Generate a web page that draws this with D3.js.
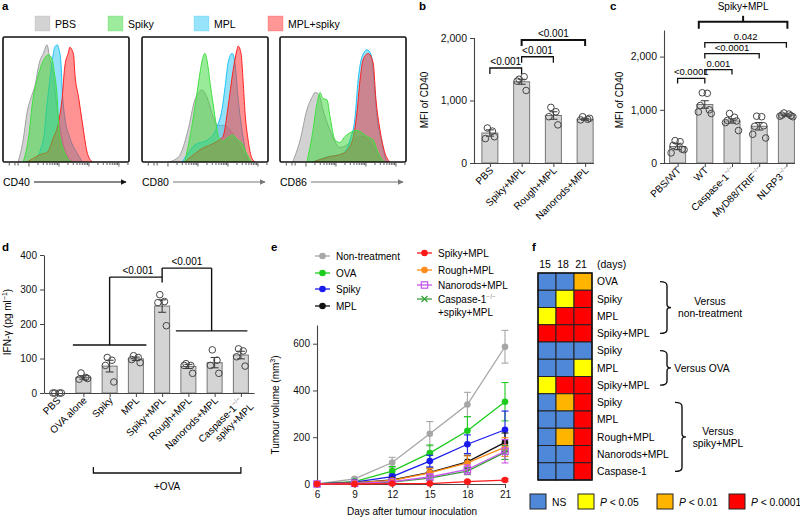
<!DOCTYPE html>
<html><head><meta charset="utf-8">
<script src="https://cdn.jsdelivr.net/npm/d3@7"></script>
<style>body{margin:0;background:#fff}</style>
</head><body>
<script>
// ================= DATA =================
// Panel a: flow cytometry histograms, [channel (0-100), % of max]
const histMarkers = ["CD40", "CD80", "CD86"];
const histGroups = ["PBS", "Spiky", "MPL", "MPL+spiky"];
const cd40PBS   = [[12,0],[16,18],[19,40],[23,55],[25,61],[29,82],[32,89],[35,96],[37,85],[40,71],[42,51],[45,30],[48,14],[53,2],[57,0]];
const cd40Spiky = [[16,0],[20,18],[24,53],[27,67],[31,81],[33,85],[36,88],[39,84],[40.5,75],[43,53],[44.5,26],[48,10],[52,2],[55,0]];
const cd40MPL   = [[24,0],[32,18],[35,48],[37,66],[40,89],[41,94],[43,96],[44.5,92],[46,81],[47,59],[49,37],[53,20],[59,7],[63,0]];
const cd40Both  = [[19,0],[24,3],[29,6],[35,8],[40,20],[44,32],[47,53],[49,78],[52,90],[53,94],[56,88],[57,73],[60,53],[63,32],[67,7],[71,0]];
const cd80PBS   = [[21,0],[29,4],[36.5,26],[42,51],[47.6,59],[51.6,53],[56.4,37],[60.3,30],[66,30],[70,26],[76,16],[82,4],[84,0]];
const cd80Spiky = [[34,0],[40,32],[44,59],[46,73],[48.4,86],[50,89],[52.4,78],[54,65],[56.4,48],[59,30],[61,20],[64,17],[68,20],[72,22],[76,18],[79,16],[83,7],[87,0]];
const cd80MPL   = [[32,0],[42,14],[52,18],[59.6,29],[63.5,43],[66,62],[68.3,81],[71.5,89],[73.8,81],[76.2,53],[79.4,26],[83.4,4],[86,0]];
const cd80Both  = [[34,0],[47.6,11],[58,16],[64.3,21],[68.3,45],[72.3,75],[75.4,92],[76.2,95],[78.6,89],[80.2,67],[81.8,40],[84.2,18],[87.3,3],[90,0]];
const cd86PBS   = [[10,0],[16,18],[21.4,43],[25.4,53],[27.8,57],[31,55],[34.1,43],[39.7,26],[47.6,12],[53.2,14],[58,18],[66,21],[71.5,16],[77,7],[81,0]];
const cd86Spiky = [[21.4,0],[25.4,21],[29.4,48],[31.8,57],[34.1,52],[37.3,51],[39.7,37],[43.7,18],[47.6,16],[51.6,21],[55.6,24],[61,26],[65,24],[69,21],[74,18],[77,10],[81,2],[83.4,0]];
const cd86MPL   = [[26,0],[37,4],[50,7],[55.6,18],[59.6,37],[62,67],[65,86],[69,92],[72.3,88],[74.6,67],[77,37],[81,16],[83.4,4],[86,0]];
const cd86Both  = [[26,0],[38,4],[50,7],[57,16],[61,40],[63.5,67],[66,84],[70,89],[74,81],[76,53],[79.4,26],[83.4,7],[87.3,0]];
const histData = [
  {PBS: cd40PBS, Spiky: cd40Spiky, MPL: cd40MPL, "MPL+spiky": cd40Both},
  {PBS: cd80PBS, Spiky: cd80Spiky, MPL: cd80MPL, "MPL+spiky": cd80Both},
  {PBS: cd86PBS, Spiky: cd86Spiky, MPL: cd86MPL, "MPL+spiky": cd86Both}
];
const histDecades = [20.6, 44.4, 68.2, 92];

// Panel b
const bCategories = ["PBS", "Spiky+MPL", "Rough+MPL", "Nanorods+MPL"];
const bMeans = [480, 1300, 760, 700];
const bSEM = [50, 40, 60, 15];
const bPoints = [[560, 510, 390, 420], [1340, 1380, 1310, 1160], [890, 820, 740, 610], [740, 700, 690, 715]];
const bTicks = [0, 1000, 2000];
const bComparisons = [[0, 1, "<0.001", 1520], [1, 2, "<0.001", 1700], [1, 3, "<0.001", 1970]];

// Panel c
const cCategories = ["PBS/WT", "WT", "Caspase-1", "MyD88/TRIF", "NLRP3"];
const cSuper = ["", "", "−/−", "−/−", "−/−"];
const cMeans = [310, 1100, 790, 690, 900];
const cSEM = [60, 70, 40, 70, 20];
const cPoints = [[420, 400, 330, 260, 190, 250], [1320, 1310, 1080, 1000, 960, 930], [930, 860, 800, 790, 760, 610], [880, 870, 690, 700, 540, 470], [940, 920, 900, 890, 880, 870]];
const cTicks = [0, 1000, 2000];
const cComparisons = [[0, 1, "<0.0001", 1590], [1, 2, "0.001", 1757], [1, 3, "<0.0001", 2056], [1, 4, "0.042", 2262]];
const cGroupLabel = "Spiky+MPL";
const cGroupLevel = 2654;

// Panel d
const dCategories = ["PBS", "OVA alone", "Spiky", "MPL", "Spiky+MPL", "Rough+MPL", "Nanorods+MPL", "Caspase-1"];
const dCategoryLine2 = ["", "", "", "", "", "", "", "spiky+MPL"];
const dMeans = [0, 45, 78, 99, 252, 77, 88, 110];
const dSEM = [0, 5, 17, 5, 18, 6, 15, 11];
const dPoints = [[0, 0, 0, 0], [58, 45, 40, 42], [103, 95, 80, 32], [108, 103, 97, 88], [285, 265, 262, 195], [85, 80, 80, 57], [125, 95, 80, 57], [128, 122, 105, 78]];
const dTicks = [0, 100, 200, 300, 400];
const dGroupLeft = [1, 3], dLevelLeft = 139;
const dGroupRight = [5, 7], dLevelRight = 180;
const dTopLevels = [336, 362];
const dTopLabels = ["<0.001", "<0.001"];

// Panel e
const eDays = [6, 9, 12, 15, 18, 21];
const eSeries = ["Non-treatment", "OVA", "Spiky", "MPL", "Spiky+MPL", "Rough+MPL", "Nanorods+MPL", "Caspase-1"];
const eNonTreatment = [0, 22, 92, 215, 340, 587];
const eOVA          = [0, 10, 55, 132, 228, 352];
const eSpiky        = [0, 8, 32, 98, 170, 232];
const eMPL          = [0, 5, 18, 50, 95, 178];
const eSpikyMPL     = [0, 0, 2, 2, 10, 17];
const eRoughMPL     = [0, 5, 15, 48, 90, 158];
const eNanorodsMPL  = [0, 3, 10, 30, 62, 140];
const eCaspase      = [0, 2, 8, 25, 55, 135];
const eErrNon   = [0, 5, 22, 52, 52, 70];
const eErrOVA   = [0, 3, 20, 35, 60, 82];
const eErrSpiky = [0, 3, 10, 25, 40, 80];
const eErrMPL   = [0, 2, 8, 18, 28, 40];
const eErrSM    = [0, 1, 2, 2, 4, 6];
const eErrRough = [0, 2, 8, 18, 30, 40];
const eErrNano  = [0, 2, 5, 10, 20, 50];
const eErrCasp  = [0, 2, 5, 10, 15, 30];
const eTicksX = [6, 9, 12, 15, 18, 21];
const eTicksY = [0, 200, 400, 600];

// Panel f
const fDays = [15, 18, 21];
const fRows = ["OVA", "Spiky", "MPL", "Spiky+MPL", "Spiky", "MPL", "Spiky+MPL", "Spiky", "MPL", "Rough+MPL", "Nanorods+MPL", "Caspase-1"];
// 0 = NS, 1 = P<0.05, 2 = P<0.01, 3 = P<0.0001
const fLevels = [[0,0,2],[0,1,3],[1,3,3],[3,3,3],[0,0,0],[0,0,1],[1,3,3],[0,2,3],[0,0,3],[0,2,3],[0,0,3],[0,0,3]];
const fLegend = ["NS", "P < 0.05", "P < 0.01", "P < 0.0001"];
const fGroups = [[0, 3, ["Versus", "non-treatment"]], [4, 6, ["Versus OVA"]], [7, 11, ["Versus", "spiky+MPL"]]];

// ================= DRAWING =================
const F = "'Liberation Sans', Arial, Helvetica, sans-serif";
const svg = d3.select("body").append("svg").attr("width", 800).attr("height", 520)
  .style("font-family", F).style("font-size", "10px");
const axisCol = "#444";

function label(x, y, s, bold) {
  svg.append("text").attr("x", x).attr("y", y).text(s)
    .style("font-weight", bold ? "bold" : "normal").style("font-size", "11.5px");
}
label(2, 10, "a", 1); label(419, 10, "b", 1); label(610, 10, "c", 1);
label(2, 251, "d", 1); label(271, 251, "e", 1); label(532, 251, "f", 1);

// ---------- Panel a ----------
const histFill = {PBS: "#a8a8a8", Spiky: "#3cd83c", MPL: "#30c8f5", "MPL+spiky": "#ff3030"};
const histStroke = {PBS: "#a0a0a0", Spiky: "#40e040", MPL: "#1ec2f5", "MPL+spiky": "#ff2020"};
const drawOrder = ["PBS", "MPL", "MPL+spiky", "Spiky"];
const legX = [35, 108, 194, 268];
histGroups.forEach((g, i) => {
  svg.append("rect").attr("x", legX[i]).attr("y", 16).attr("width", 15).attr("height", 15)
    .attr("fill", histFill[g]).attr("fill-opacity", 0.5).attr("stroke", histFill[g]).attr("stroke-opacity", 0.25);
  svg.append("text").attr("x", legX[i] + 20).attr("y", 27.5).text(g).style("font-size", "10.5px");
});
const boxL = [3, 142, 280], boxW = 126, boxT = 37, boxB = 162;
const hy = d3.scaleLinear().domain([0, 100]).range([boxB, 40]);
const defs = svg.append("defs");
defs.append("marker").attr("id", "arr").attr("viewBox", "0 0 10 10").attr("refX", 9).attr("refY", 5)
  .attr("markerWidth", 5).attr("markerHeight", 5).attr("orient", "auto")
  .append("path").attr("d", "M0,0 L10,5 L0,10 z").attr("fill", "context-stroke");
histMarkers.forEach((m, pi) => {
  const L = boxL[pi];
  const hx = d3.scaleLinear().domain([0, 100]).range([L, L + boxW]);
  defs.append("clipPath").attr("id", "clip" + pi).append("rect")
    .attr("x", L).attr("y", boxT).attr("width", boxW).attr("height", boxB - boxT);
  const g = svg.append("g").attr("clip-path", `url(#clip${pi})`);
  const area = d3.area().x(d => hx(d[0])).y0(boxB).y1(d => hy(d[1])).curve(d3.curveMonotoneX);
  const line = d3.line().x(d => hx(d[0])).y(d => hy(d[1])).curve(d3.curveMonotoneX);
  drawOrder.forEach(k => {
    g.append("path").attr("d", area(histData[pi][k])).attr("fill", histFill[k]).attr("fill-opacity", 0.52);
    g.append("path").attr("d", line(histData[pi][k])).attr("fill", "none").attr("stroke", histStroke[k]).attr("stroke-width", 1);
  });
  svg.append("rect").attr("x", L).attr("y", boxT).attr("width", boxW).attr("height", boxB - boxT)
    .attr("fill", "none").attr("stroke", "#111").attr("stroke-width", 1.6).attr("rx", 1.5);
  // log-like tick marks under the box
  const tks = [];
  [5, 9.5, 12].forEach(v => tks.push([v, 2.5]));
  histDecades.forEach(d0 => {
    tks.push([d0, 3.5]);
    for (let k = 2; k <= 9; k++) { const v = d0 + 23.8 * Math.log10(k); if (v < 100) tks.push([v, 2]); }
  });
  tks.forEach(t => svg.append("line").attr("x1", hx(t[0])).attr("x2", hx(t[0]))
    .attr("y1", boxB + 1).attr("y2", boxB + 1 + t[1]).attr("stroke", "#333").attr("stroke-width", 0.8));
  svg.append("text").attr("x", L).attr("y", 186).text(m).style("font-size", "10.5px");
  const ac = pi === 0 ? "#111" : "#777";
  svg.append("line").attr("x1", L + 31).attr("x2", L + 123).attr("y1", 182).attr("y2", 182)
    .attr("stroke", ac).attr("stroke-width", 1.2).attr("marker-end", "url(#arr)");
});

// ---------- generic bar panel ----------
function styleAxis(sel) {
  sel.selectAll("path.domain").attr("stroke", axisCol).attr("stroke-width", 1.1);
  sel.selectAll(".tick line").attr("stroke", axisCol);
  sel.selectAll(".tick text").attr("fill", "#111").style("font-family", F);
}
function drawBars(x, y, cats, means, sem, pts, bw) {
  const g = svg.append("g");
  cats.forEach((c, i) => {
    const cx = x(c);
    g.append("rect").attr("x", cx - bw / 2).attr("y", y(means[i])).attr("width", bw)
      .attr("height", Math.max(0, y(0) - y(means[i]))).attr("fill", "#d4d4d4").attr("stroke", "#777").attr("stroke-width", 1);
    if (sem[i] > 0) {
      g.append("line").attr("x1", cx).attr("x2", cx).attr("y1", y(means[i] - sem[i])).attr("y2", y(means[i] + sem[i])).attr("stroke", "#333");
      [means[i] - sem[i], means[i] + sem[i]].forEach(v => g.append("line").attr("x1", cx - 4).attr("x2", cx + 4)
        .attr("y1", y(v)).attr("y2", y(v)).attr("stroke", "#333"));
    }
    pts[i].forEach((v, j) => {
      const off = (j % 2 ? 1 : -1) * (2.5 + (j >> 1) * 2) * (bw / 16);
      g.append("circle").attr("cx", cx + off).attr("cy", y(v)).attr("r", 3.3)
        .attr("fill", "none").attr("stroke", "#444").attr("stroke-width", 1);
    });
  });
}
function bracket(x1, x2, yy, drop, txt, sw, fs) {
  svg.append("path").attr("d", `M${x1},${yy + drop}V${yy}H${x2}V${yy + drop}`)
    .attr("fill", "none").attr("stroke", "#111").attr("stroke-width", sw || 1.3);
  if (txt) svg.append("text").attr("x", (x1 + x2) / 2).attr("y", yy - 3).attr("text-anchor", "middle")
    .text(txt).style("font-size", fs || "10px");
}

// ---------- Panel b ----------
{
  const x = d3.scalePoint().domain(bCategories).range([474, 601]).padding(0.5);
  const y = d3.scaleLinear().domain([0, 2000]).range([163, 38]);
  drawBars(x, y, bCategories, bMeans, bSEM, bPoints, 16);
  const ay = svg.append("g").attr("transform", "translate(474,0)")
    .call(d3.axisLeft(y).tickValues(bTicks).tickSize(4).tickFormat(d3.format(",")));
  ay.selectAll(".tick text").style("font-size", "10.5px");
  styleAxis(ay);
  const ax = svg.append("g").attr("transform", "translate(0,163)")
    .call(d3.axisBottom(x).tickSize(4).tickSizeOuter(0).tickFormat(""));
  ax.select("path.domain").attr("d", "M474,0.5H594");
  styleAxis(ax);
  bCategories.forEach(c => svg.append("text").attr("transform", `translate(${x(c) + 4},171) rotate(-45)`)
    .attr("text-anchor", "end").text(c));
  svg.append("text").attr("transform", "translate(428,100) rotate(-90)").attr("text-anchor", "middle").text("MFI of CD40");
  bComparisons.forEach((cmp, k) => bracket(x(bCategories[cmp[0]]), x(bCategories[cmp[1]]), y(cmp[3]), 6, cmp[2], k === 2 ? 2 : 1.3));
}

// ---------- Panel c ----------
{
  const x = d3.scalePoint().domain(cCategories).range([664, 800]).padding(0.5);
  const y = d3.scaleLinear().domain([0, 2500]).range([163, 30]);
  drawBars(x, y, cCategories, cMeans, cSEM, cPoints, 16);
  const ay = svg.append("g").attr("transform", "translate(664,0)")
    .call(d3.axisLeft(y).tickValues(cTicks).tickSize(4).tickFormat(d3.format(",")).tickSizeOuter(0));
  ay.selectAll(".tick text").style("font-size", "10.5px");
  styleAxis(ay);
  const ax = svg.append("g").attr("transform", "translate(0,163)")
    .call(d3.axisBottom(x).tickSize(4).tickSizeOuter(0).tickFormat(""));
  ax.select("path.domain").attr("d", "M664,0.5H795");
  styleAxis(ax);
  cCategories.forEach((c, i) => {
    const t = svg.append("text").attr("transform", `translate(${x(c) + 4},171) rotate(-45)`).attr("text-anchor", "end");
    t.append("tspan").text(c);
    if (cSuper[i]) t.append("tspan").text(cSuper[i]).attr("dy", -4).style("font-size", "6.5px").attr("fill", "#888");
  });
  svg.append("text").attr("transform", "translate(623,100) rotate(-90)").attr("text-anchor", "middle").text("MFI of  CD40");
  cComparisons.forEach(cmp => bracket(x(cCategories[cmp[0]]), x(cCategories[cmp[1]]), y(cmp[3]), 5, cmp[2], 1.3, "9.5px"));
  const gl = x(cCategories[1]) - 6, gr = x(cCategories[4]) + 1, gy = y(cGroupLevel);
  bracket(gl, gr, gy, 7, null, 2);
  svg.append("line").attr("x1", (gl + gr) / 2).attr("x2", (gl + gr) / 2).attr("y1", gy).attr("y2", gy - 6).attr("stroke", "#111").attr("stroke-width", 2);
  svg.append("text").attr("x", (gl + gr) / 2).attr("y", 10).attr("text-anchor", "middle").text(cGroupLabel);
}

// ---------- Panel d ----------
{
  const x = d3.scalePoint().domain(dCategories).range([44, 254]).padding(0.5);
  const y = d3.scaleLinear().domain([0, 400]).range([393, 255]);
  drawBars(x, y, dCategories, dMeans, dSEM, dPoints, 15);
  const ay = svg.append("g").attr("transform", "translate(44,0)")
    .call(d3.axisLeft(y).tickValues(dTicks).tickSize(4).tickSizeOuter(0));
  styleAxis(ay);
  const ax = svg.append("g").attr("transform", "translate(0,393)")
    .call(d3.axisBottom(x).tickSize(4).tickSizeOuter(0).tickFormat(""));
  styleAxis(ax);
  dCategories.forEach((c, i) => {
    const t = svg.append("text").attr("transform", `translate(${x(c) + 4},401) rotate(-45)`).attr("text-anchor", "end");
    if (dCategoryLine2[i]) {
      t.append("tspan").attr("x", -2).text(c);
      t.append("tspan").text("−/−").attr("dy", -4).style("font-size", "6.5px").attr("fill", "#888");
      t.append("tspan").attr("x", 2).attr("dy", 15).text(dCategoryLine2[i]);
    } else t.append("tspan").text(c);
  });
  const yl = svg.append("text").attr("transform", "translate(11,322) rotate(-90)").attr("text-anchor", "middle");
  yl.append("tspan").text("IFN-γ (pg ml");
  yl.append("tspan").text("−1").attr("dy", -4).style("font-size", "7px");
  yl.append("tspan").text(")").attr("dy", 4);
  const bw = 15;
  const lx1 = x(dCategories[dGroupLeft[0]]) - bw / 2 - 3, lx2 = x(dCategories[dGroupLeft[1]]) + bw / 2 + 3;
  const rx1 = x(dCategories[dGroupRight[0]]) - bw / 2 - 5, rx2 = x(dCategories[dGroupRight[1]]) + bw / 2 - 1;
  const ln = (a, b, c, d2) => svg.append("line").attr("x1", a).attr("y1", b).attr("x2", c).attr("y2", d2).attr("stroke", "#111").attr("stroke-width", 1.4);
  ln(lx1, y(dLevelLeft), lx2, y(dLevelLeft));
  ln(rx1, y(dLevelRight), rx2, y(dLevelRight));
  const lc = (lx1 + lx2) / 2, rc = (rx1 + rx2) / 2, mc = x(dCategories[4]);
  ln(lc, y(dLevelLeft), lc, y(dTopLevels[0]));
  ln(lc, y(dTopLevels[0]), mc, y(dTopLevels[0]));
  ln(mc, y(dMeans[4] + dSEM[4] + 50), mc, y(dTopLevels[1]));
  ln(mc, y(dTopLevels[1]), rc, y(dTopLevels[1]));
  ln(rc, y(dTopLevels[1]), rc, y(dLevelRight));
  svg.append("text").attr("x", (lc + mc) / 2 + 2).attr("y", y(dTopLevels[0]) - 3).attr("text-anchor", "middle").text(dTopLabels[0]);
  svg.append("text").attr("x", (mc + rc) / 2).attr("y", y(dTopLevels[1]) - 3).attr("text-anchor", "middle").text(dTopLabels[1]);
  // +OVA bracket
  const ox1 = x(dCategories[1]) + 10, ox2 = x(dCategories[7]);
  svg.append("path").attr("d", `M${ox1},467V473H${ox2}V467`).attr("fill", "none").attr("stroke", "#111").attr("stroke-width", 1.3);
  svg.append("text").attr("x", (ox1 + ox2) / 2).attr("y", 490).attr("text-anchor", "middle").text("+OVA");
}

// ---------- Panel e ----------
{
  const x = d3.scaleLinear().domain([6, 21]).range([317, 505]);
  const y = d3.scaleLinear().domain([0, 680]).range([484, 325]);
  const ay = svg.append("g").attr("transform", "translate(317,0)")
    .call(d3.axisLeft(y).tickValues(eTicksY).tickSize(4).tickSizeOuter(0));
  styleAxis(ay);
  const ax = svg.append("g").attr("transform", "translate(0,484)")
    .call(d3.axisBottom(x).tickValues(eTicksX).tickSize(4).tickSizeOuter(0));
  styleAxis(ax);
  const yl = svg.append("text").attr("transform", "translate(279,405) rotate(-90)").attr("text-anchor", "middle");
  yl.append("tspan").text("Tumour volume (mm");
  yl.append("tspan").text("3").attr("dy", -4).style("font-size", "7px");
  yl.append("tspan").text(")").attr("dy", 4);
  svg.append("text").attr("x", 412).attr("y", 515).attr("text-anchor", "middle").text("Days after tumour inoculation");

  const vals = [eNonTreatment, eOVA, eSpiky, eMPL, eSpikyMPL, eRoughMPL, eNanorodsMPL, eCaspase];
  const errs = [eErrNon, eErrOVA, eErrSpiky, eErrMPL, eErrSM, eErrRough, eErrNano, eErrCasp];
  const cols = ["#a6a6a6", "#1ccc1c", "#1a1aee", "#111111", "#ff1a1a", "#ff8c1a", "#c655ee", "#35a035"];
  const marks = ["c", "c", "c", "c", "c", "c", "s", "x"];
  function marker(g, t, px, py, col) {
    if (t === "c") g.append("circle").attr("cx", px).attr("cy", py).attr("r", 3.3).attr("fill", col);
    else if (t === "s") g.append("rect").attr("x", px - 3.2).attr("y", py - 3.2).attr("width", 6.4).attr("height", 6.4).attr("fill", "none").attr("stroke", col).attr("stroke-width", 1.2);
    else g.append("path").attr("d", `M${px - 3},${py - 3}L${px + 3},${py + 3}M${px - 3},${py + 3}L${px + 3},${py - 3}`).attr("stroke", col).attr("stroke-width", 1.2);
  }
  const line = d3.line().x((d, i) => x(eDays[i])).y(d => y(d));
  const order = [0, 1, 2, 3, 5, 7, 6, 4];
  order.forEach(si => {
    const g = svg.append("g");
    g.append("path").attr("d", line(vals[si])).attr("fill", "none").attr("stroke", cols[si]).attr("stroke-width", 1.3);
    vals[si].forEach((v, i) => {
      const e = errs[si][i], px = x(eDays[i]);
      if (e > 0) {
        g.append("line").attr("x1", px).attr("x2", px).attr("y1", y(v - e)).attr("y2", y(v + e)).attr("stroke", cols[si]).attr("stroke-width", 1.1);
        [v - e, v + e].forEach(w => g.append("line").attr("x1", px - 3.5).attr("x2", px + 3.5).attr("y1", y(w)).attr("y2", y(w)).attr("stroke", cols[si]).attr("stroke-width", 1.1));
      }
      marker(g, marks[si], px, y(v), cols[si]);
    });
  });
  // legend
  const legPos = [[315, 256], [315, 273], [315, 289], [315, 306], [417, 253], [417, 270], [417, 285], [417, 299]];
  eSeries.forEach((s, i) => {
    const [lx, ly] = legPos[i];
    svg.append("line").attr("x1", lx).attr("x2", lx + 15).attr("y1", ly).attr("y2", ly).attr("stroke", cols[i]).attr("stroke-width", 1.3);
    marker(svg, marks[i], lx + 7.5, ly, cols[i]);
    const t = svg.append("text").attr("x", lx + 21).attr("y", ly + 3.5);
    t.append("tspan").text(s);
    if (i === 7) {
      t.append("tspan").text("−/−").attr("dy", -4).style("font-size", "6.5px").attr("fill", "#888");
      svg.append("text").attr("x", lx + 21).attr("y", ly + 16.5).text("+spiky+MPL");
    }
  });
}

// ---------- Panel f ----------
{
  const x = d3.scaleBand().domain(fDays).range([538, 592]);
  const y = d3.scaleBand().domain(d3.range(fRows.length)).range([273, 480]);
  const fCols = ["#4f88d8", "#ffff00", "#ffb400", "#ff0000"];
  fLevels.forEach((row, r) => row.forEach((lv, c) => {
    svg.append("rect").attr("x", x(fDays[c])).attr("y", y(r)).attr("width", x.bandwidth()).attr("height", y.bandwidth())
      .attr("fill", fCols[lv]).attr("stroke", "#222").attr("stroke-width", 1);
  }));
  svg.append("rect").attr("x", 538).attr("y", 273).attr("width", 54).attr("height", 207).attr("fill", "none").attr("stroke", "#111").attr("stroke-width", 1.4);
  fDays.forEach(d => svg.append("text").attr("x", x(d) + x.bandwidth() / 2 - 2).attr("y", 268).attr("text-anchor", "middle").text(d).style("font-size", "10.5px"));
  svg.append("text").attr("x", 597).attr("y", 268).text("(days)").style("font-size", "10.5px");
  fRows.forEach((r, i) => svg.append("text").attr("x", 597).attr("y", y(i) + y.bandwidth() / 2 + 3.8).text(r).style("font-size", "10.3px"));
  const brX = [667, 667, 682], labX = [710, 702, 718];
  fGroups.forEach((gp, k) => {
    const y0 = y(gp[0]) + y.bandwidth() / 2, y1 = y(gp[1]) + y.bandwidth() / 2, ym = (y0 + y1) / 2, bx = brX[k];
    svg.append("path").attr("d", `M${bx - 7},${y0}Q${bx},${y0} ${bx},${y0 + 4}V${ym - 3}Q${bx},${ym} ${bx + 4},${ym}Q${bx},${ym} ${bx},${ym + 3}V${y1 - 4}Q${bx},${y1} ${bx - 7},${y1}`)
      .attr("fill", "none").attr("stroke", "#111").attr("stroke-width", 1.4);
    const lines = gp[2];
    lines.forEach((s, j) => svg.append("text").attr("x", labX[k]).attr("y", ym + 3.8 + (j - (lines.length - 1) / 2) * 12)
      .attr("text-anchor", "middle").text(s).style("font-size", "10.3px"));
  });
  const lgX = [530, 578, 657, 729];
  fLegend.forEach((s, i) => {
    svg.append("rect").attr("x", lgX[i]).attr("y", 494).attr("width", 16).attr("height", 15).attr("fill", fCols[i]).attr("stroke", "#222").attr("stroke-width", 1);
    const t = svg.append("text").attr("x", lgX[i] + 22).attr("y", 506).style("font-size", "10.3px");
    if (i === 0) t.text(s);
    else { t.append("tspan").text("P").style("font-style", "italic"); t.append("tspan").text(s.slice(1)); }
  });
}
</script>
</body></html>
